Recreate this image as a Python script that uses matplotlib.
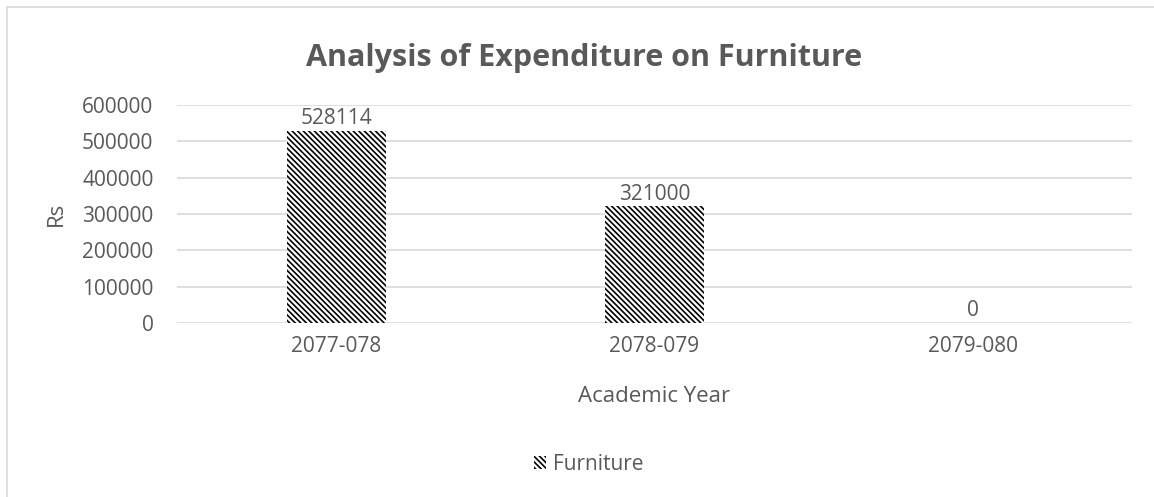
import numpy as np
import matplotlib.pyplot as plt
from matplotlib.patches import Rectangle

plt.rcParams['font.family'] = ['Open Sans', 'DejaVu Sans']
plt.rcParams['hatch.linewidth'] = 1.2

# data
years = ['2077-078', '2078-079', '2079-080']
spend = [528114, 321000, 0]
yticks = [0, 100000, 200000, 300000, 400000, 500000, 600000]

txt = '#595959'
grid = '#d9d9d9'

fig = plt.figure(figsize=(11.54, 4.97), dpi=100)
ax = fig.add_axes([0.1534, 0.3501, 0.8276, 0.4386])

x = np.arange(len(years))
bars = ax.bar(x, spend, width=0.31, color='white', edgecolor='black',
              hatch='\\' * 6, linewidth=0, label='Furniture')

for xi, v in zip(x, spend):
    ax.text(xi, v + 5000, str(v), ha='center', va='bottom', fontsize=15, color=txt)

ax.set_xlim(-0.5, 2.5)
ax.set_ylim(0, 600000)
ax.set_yticks(yticks)
ax.set_yticklabels([str(t) for t in yticks])
ax.set_xticks(x)
ax.set_xticklabels(years)
ax.tick_params(length=0, labelsize=15, labelcolor=txt)
ax.tick_params(axis='x', pad=9)
ax.tick_params(axis='y', pad=17)
ax.grid(axis='y', color=grid, linewidth=1.2)
ax.set_axisbelow(True)
for s in ax.spines.values():
    s.set_visible(False)

ax.set_ylabel('Rs', fontsize=16, color=txt, labelpad=11)
ax.set_xlabel('Academic Year', fontsize=16, color=txt, labelpad=21)

fig.text(0.506, 0.883, 'Analysis of Expenditure on Furniture', ha='center', va='center',
         fontsize=22, fontweight='bold', color=txt)

fig.legend(handles=[bars], loc='center', bbox_to_anchor=(0.51, 0.065), frameon=False,
           fontsize=15, labelcolor=txt, handlelength=0.6, handleheight=0.6,
           handletextpad=0.3)

# chart border (only top and left edges visible in the crop)
fig.patches.append(Rectangle((7 / 1154, -0.1), 1.2, 1 - 7 / 497 + 0.1,
                             transform=fig.transFigure, fill=False,
                             edgecolor=grid, linewidth=1.2))

fig.savefig('out.png', dpi=100)
